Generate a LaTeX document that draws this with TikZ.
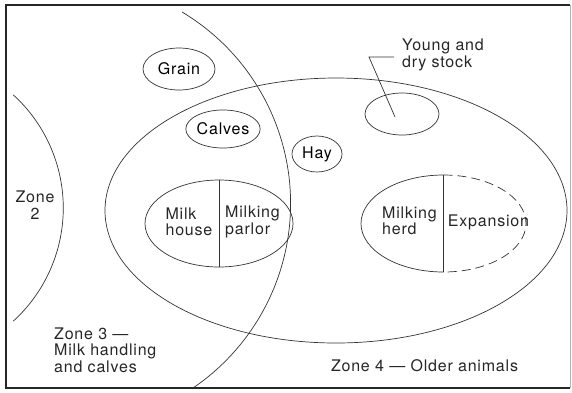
\documentclass[tikz,border=0pt]{standalone}
\usepackage{fontspec}
\setmainfont{TeX Gyre Heros}[LetterSpace=5]
\usetikzlibrary{shapes.geometric}

\begin{document}
\begin{tikzpicture}[x=1pt,y=-1pt,
    pen/.style={draw=black!80,line width=.7pt},
    pad/.style={pen,ellipse,inner sep=0pt,outer sep=0pt},
    lbl/.style={align=left,text=black!85,inner sep=0pt},
    font=\fontsize{16}{16.5}\selectfont]
  \useasboundingbox (0,0) rectangle (572,392);
  \draw[line width=1.2pt,black!85] (570,5) -- (6,5) -- (6,388) -- (570,388);
  \draw[black!30,line width=.5pt] (570,5) -- (570,388);
  \draw[pen] (336,210.5) ellipse[x radius=231,y radius=132.5];
  \draw[pen] (67.4,203.5) ++(-59.1:223.2) arc[start angle=-59.1,end angle=55.8,radius=223.2];
  \draw[pen] (-89.7,208) ++(-47.7:153) arc[start angle=-47.7,end angle=47.7,radius=153];
  \node[pad,minimum width=72pt,minimum height=42pt] (grain) at (179,69) {Grain};
  \node[pad,minimum width=66pt,minimum height=38pt] (calves) at (223,129) {Calves};
  \node[pad,minimum width=50pt,minimum height=36pt] (hay) at (317,154) {Hay};
  \node[pad,minimum width=74pt,minimum height=42pt] (young) at (402,114) {};
  \node[lbl,anchor=west] (youngtext) at (402,55) {Young and\\dry stock};
  \draw[pen] ([xshift=-8pt,yshift=-2pt]youngtext.west) -- +(-25,0) -- ([xshift=-7pt,yshift=-3pt]young.center);
  \node[pad,minimum width=148pt,minimum height=87pt] (parlor) at (219,223.5) {};
  \draw[pen] (parlor.north) -- (parlor.south);
  \node[lbl] (milkhouse) at (189,222) {Milk\\house};
  \node[lbl] (milkparlor) at (252.5,222) {Milking\\parlor};
  \node[ellipse,inner sep=0pt,outer sep=0pt,minimum width=165pt,minimum height=97pt] (herd) at (443.5,223.5) {};
  \draw[pen] (herd.north) arc[start angle=270,end angle=90,x radius=82.5,y radius=48.5] -- (herd.north);
  \draw[pen,dash pattern=on 9pt off 5pt] (herd.north) arc[start angle=-90,end angle=90,x radius=82.5,y radius=48.5];
  \node[lbl] (herdtext) at (409.5,221) {Milking\\herd};
  \node[lbl] (expansion) at (488.5,222) {Expansion};
  \node[lbl,align=center] (zone2) at (35,205) {Zone\\2};
  \node[lbl,anchor=west] (zone3) at (54,350) {Zone 3 —\\Milk handling\\and calves};
  \node[lbl] (zone4) at (424.5,366) {Zone 4 — Older animals};
\end{tikzpicture}
\end{document}
